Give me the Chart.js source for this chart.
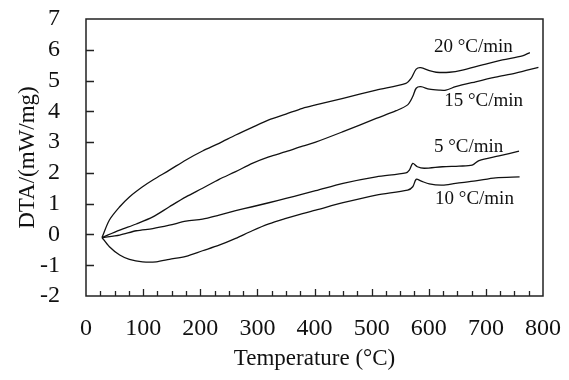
<!DOCTYPE html>
<html>
<head>
<meta charset="utf-8">
<title>DTA curves</title>
<script src="https://cdn.jsdelivr.net/npm/chart.js@4.4.0/dist/chart.umd.min.js"></script>
<style>
  html, body { margin: 0; padding: 0; background: #fff; }
  #wrap { width: 569px; height: 380px; }
</style>
</head>
<body>
<div id="wrap"><canvas id="dtaChart" width="569" height="380"></canvas></div>
<script>
// Axis ranges / ticks
const xRange = [0, 800];
const yRange = [-2, 7];

// 20 °C/min
const temp20 = [28, 41, 59, 76, 99, 117, 146, 175, 204, 233, 262, 291, 320, 350, 379, 402, 450, 508, 560, 569, 578, 586, 601, 613, 636, 659, 694, 729, 764, 777];
const dta20  = [-0.1, 0.47, 0.90, 1.22, 1.55, 1.77, 2.09, 2.42, 2.71, 2.96, 3.23, 3.48, 3.72, 3.91, 4.10, 4.21, 4.42, 4.69, 4.91, 5.07, 5.37, 5.42, 5.32, 5.27, 5.27, 5.34, 5.51, 5.67, 5.80, 5.91];

// 15 °C/min
const temp15 = [28, 59, 88, 117, 146, 175, 204, 233, 262, 291, 320, 350, 379, 402, 450, 508, 543, 563, 572, 578, 586, 601, 618, 630, 647, 682, 717, 752, 792];
const dta15  = [-0.1, 0.14, 0.34, 0.57, 0.90, 1.22, 1.50, 1.79, 2.04, 2.31, 2.52, 2.69, 2.87, 3.00, 3.34, 3.77, 4.02, 4.21, 4.48, 4.75, 4.80, 4.72, 4.69, 4.69, 4.80, 4.96, 5.11, 5.24, 5.43];

// 5 °C/min
const temp5 = [28, 59, 88, 117, 146, 175, 204, 233, 262, 291, 320, 350, 379, 402, 450, 508, 560, 566, 572, 580, 592, 624, 653, 676, 688, 723, 758];
const dta5  = [-0.1, -0.02, 0.12, 0.19, 0.30, 0.43, 0.50, 0.63, 0.77, 0.90, 1.03, 1.17, 1.31, 1.42, 1.66, 1.87, 2.00, 2.09, 2.31, 2.20, 2.15, 2.20, 2.22, 2.25, 2.40, 2.55, 2.71];

// 10 °C/min
const temp10 = [28, 41, 59, 76, 99, 123, 146, 175, 204, 233, 262, 291, 320, 350, 379, 402, 450, 508, 563, 572, 578, 586, 601, 624, 647, 682, 717, 759];
const dta10  = [-0.1, -0.40, -0.67, -0.81, -0.89, -0.89, -0.81, -0.71, -0.53, -0.35, -0.13, 0.12, 0.34, 0.52, 0.68, 0.79, 1.03, 1.28, 1.44, 1.55, 1.79, 1.74, 1.64, 1.60, 1.66, 1.74, 1.84, 1.87];

const rateNames = ['20 °C/min', '15 °C/min', '5 °C/min', '10 °C/min'];

const SERIF = "'Liberation Serif', 'Times New Roman', serif";

function toPoints(xs, ys) {
    return xs.map((t, i) => ({ x: t, y: ys[i] }));
}

// where each rate label sits, in data units
const labelSpots = [
    { text: rateNames[0], t: 609, d: 6.10 },
    { text: rateNames[1], t: 627, d: 4.35 },
    { text: rateNames[2], t: 609, d: 2.85 },
    { text: rateNames[3], t: 611, d: 1.15 }
];

// frame box, inward ticks and rate labels
const frameTicks = {
    id: 'frameTicks',
    afterDraw(chart) {
        const { ctx, chartArea: a, scales: { x, y } } = chart;
        ctx.save();
        ctx.strokeStyle = '#222';
        ctx.lineWidth = 1.5;
        ctx.strokeRect(a.left, a.top, a.right - a.left, a.bottom - a.top);

        ctx.lineWidth = 1.3;
        ctx.beginPath();
        for (let v = yRange[0] + 1; v < yRange[1]; v++) {
            const py = Math.round(y.getPixelForValue(v)) + 0.5;
            ctx.moveTo(a.left, py);
            ctx.lineTo(a.left + 8, py);
        }
        for (let t = 25; t < xRange[1]; t += 25) {
            const px = Math.round(x.getPixelForValue(t)) + 0.5;
            const len = t % 100 === 0 ? 7 : 5;
            ctx.moveTo(px, a.bottom);
            ctx.lineTo(px, a.bottom - len);
        }
        ctx.stroke();

        ctx.fillStyle = '#111';
        ctx.font = '19px ' + SERIF;
        ctx.textAlign = 'left';
        ctx.textBaseline = 'middle';
        labelSpots.forEach(l => {
            ctx.fillText(l.text, x.getPixelForValue(l.t), y.getPixelForValue(l.d));
        });
        ctx.restore();
    }
};

function lineSet(label, xs, ys) {
    return {
        label: label,
        data: toPoints(xs, ys),
        showLine: true,
        borderColor: '#111',
        borderWidth: 1.3,
        pointRadius: 0,
        tension: 0.3,
        fill: false
    };
}

new Chart(document.getElementById('dtaChart'), {
    type: 'scatter',
    data: {
        datasets: [
            lineSet(rateNames[0], temp20, dta20),
            lineSet(rateNames[1], temp15, dta15),
            lineSet(rateNames[2], temp5, dta5),
            lineSet(rateNames[3], temp10, dta10)
        ]
    },
    options: {
        responsive: false,
        animation: false,
        devicePixelRatio: 1,
        layout: { padding: { top: 19, right: 26, left: 0, bottom: 0 } },
        plugins: {
            legend: { display: false },
            tooltip: { enabled: false }
        },
        scales: {
            x: {
                type: 'linear',
                min: xRange[0],
                max: xRange[1],
                grid: { display: false },
                border: { display: false },
                ticks: {
                    stepSize: 100,
                    maxRotation: 0,
                    autoSkip: false,
                    padding: 10,
                    color: '#111',
                    font: { family: SERIF, size: 24 }
                },
                title: {
                    display: true,
                    text: 'Temperature (°C)',
                    color: '#111',
                    font: { family: SERIF, size: 23 },
                    padding: { top: 0, bottom: 7 }
                },
                afterFit(scale) {
                    scale.height = 84;
                    scale.paddingLeft = 0;
                    scale.paddingRight = 0;
                }
            },
            y: {
                min: yRange[0],
                max: yRange[1],
                grid: { display: false },
                border: { display: false },
                ticks: {
                    stepSize: 1,
                    autoSkip: false,
                    padding: 18,
                    color: '#111',
                    font: { family: SERIF, size: 24 }
                },
                title: {
                    display: true,
                    text: 'DTA/(mW/mg)',
                    color: '#111',
                    font: { family: SERIF, size: 23 },
                    padding: { top: 14, bottom: 0 }
                },
                afterFit(scale) {
                    scale.width = 86;
                    scale.paddingTop = 0;
                    scale.paddingBottom = 0;
                }
            }
        }
    },
    plugins: [frameTicks]
});
</script>
</body>
</html>
